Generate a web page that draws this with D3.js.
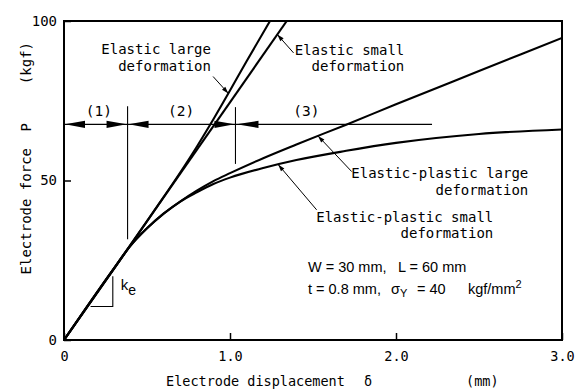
<!DOCTYPE html>
<html>
<head>
<meta charset="utf-8">
<script src="https://cdn.jsdelivr.net/npm/d3@7"></script>
<style>
  body { margin: 0; background: #fff; }
  svg { display: block; }
</style>
</head>
<body>
<svg id="chart" width="580" height="392"></svg>
<script>
// Axis ticks
const xTicks = [0, 1, 2, 3];
const xTickLabels = ["0", "1.0", "2.0", "3.0"];
const yTicks = [0, 50, 100];
const yTickLabels = ["0", "50", "100"];

// Force P (kgf) against displacement δ (mm) for each model
const elasticSmallDelta = [0, 1.342];
const elasticSmallP     = [0, 100];

const elasticLargeDelta = [0, 0.55, 0.7, 0.8, 0.9, 1.0, 1.1, 1.241];
const elasticLargeP     = [0, 41.0, 52.5, 60.6, 69.2, 78.2, 87.4, 100];

const plasticLargeDelta = [0, 0.3, 0.4, 0.5, 0.6, 0.7, 0.8, 0.9, 1.0, 1.2, 1.4, 1.7, 2.0, 2.5, 3.0];
const plasticLargeP     = [0, 22.4, 29.5, 35.0, 39.6, 43.4, 46.8, 49.8, 52.3, 57.0, 61.3, 67.5, 73.9, 84.3, 94.7];

const plasticSmallDelta = [0, 0.3, 0.4, 0.5, 0.6, 0.7, 0.8, 0.9, 1.0, 1.2, 1.4, 1.7, 2.0, 2.5, 3.0];
const plasticSmallP     = [0, 22.4, 29.5, 35.0, 39.6, 43.4, 46.3, 48.9, 50.9, 53.9, 56.4, 59.3, 61.8, 64.6, 66.0];

// Deformation regions (1)(2)(3) marked along a force level
const regionBounds = [0, 0.383, 1.033, 2.217];
const regionLabels = ["(1)", "(2)", "(3)"];
const regionLabelDelta = [0.21, 0.705, 1.46];
const regionLevelP = 67.6;
const dividerTopP = [73.3, 73.0];
const dividerBottomP = [31.6, 55.2];

// Curve labels with leader lines
const curveLabels = [
  { lines: ["Elastic large", "deformation"], delta: 0.885, P: 89.5, lx0: 0.898, lp0: 82.6, series: "elasticLarge", tDelta: 0.99 },
  { lines: ["Elastic small", "deformation"], delta: 2.05, P: 89.3, lx0: 1.383, lp0: 90.0, series: "elasticSmall", tDelta: 1.285 },
  { lines: ["Elastic-plastic large", "deformation"], delta: 2.797, P: 50.7, lx0: 1.733, lp0: 52.8, series: "plasticLarge", tDelta: 1.53 },
  { lines: ["Elastic-plastic small", "deformation"], delta: 2.586, P: 37.0, lx0: 1.522, lp0: 40.8, series: "plasticSmall", tDelta: 1.29 }
];

const mono = "'DejaVu Sans Mono', monospace";
const sans = "'Liberation Sans', Arial, sans-serif";

const svg = d3.select("#chart");
const x = d3.scaleLinear().domain([0, 3]).range([64, 562]);
const y = d3.scaleLinear().domain([0, 100]).range([340, 21]);

const series = {
  elasticSmall: [elasticSmallDelta, elasticSmallP],
  elasticLarge: [elasticLargeDelta, elasticLargeP],
  plasticLarge: [plasticLargeDelta, plasticLargeP],
  plasticSmall: [plasticSmallDelta, plasticSmallP]
};
const valueAt = (key, d) => d3.scaleLinear().domain(series[key][0]).range(series[key][1])(d);

// Plot frame
svg.append("rect")
  .attr("x", x(0)).attr("y", y(100))
  .attr("width", x(3) - x(0)).attr("height", y(0) - y(100))
  .attr("fill", "none").attr("stroke", "#000").attr("stroke-width", 2);

// Axes with inward ticks
const gx = svg.append("g")
  .attr("transform", `translate(0,${y(0)})`)
  .call(d3.axisBottom(x).tickValues(xTicks).tickFormat((d, i) => xTickLabels[i])
    .tickSizeInner(-7).tickSizeOuter(0).tickPadding(11));
gx.select(".domain").remove();
gx.selectAll("line").attr("stroke-width", 1.5);
gx.selectAll("text").attr("font-family", mono).attr("font-size", 13.5).attr("fill", "#000");

const gy = svg.append("g")
  .attr("transform", `translate(${x(0)},0)`)
  .call(d3.axisLeft(y).tickValues(yTicks).tickFormat((d, i) => yTickLabels[i])
    .tickSizeInner(-7).tickSizeOuter(0).tickPadding(7));
gy.select(".domain").remove();
gy.selectAll("line").attr("stroke-width", 1.5);
gy.selectAll("text").attr("font-family", mono).attr("font-size", 14).attr("fill", "#000");

// Axis titles
const yTitle = svg.append("g").attr("font-family", mono).attr("font-size", 14);
yTitle.append("text").attr("transform", "translate(31,148) rotate(-90)")
  .attr("text-anchor", "end").text("Electrode force");
yTitle.append("text").attr("transform", "translate(31,123) rotate(-90)")
  .attr("text-anchor", "end").text("P");
yTitle.append("text").attr("transform", "translate(31,42) rotate(-90)")
  .attr("text-anchor", "end").text("(kgf)");

const xTitle = svg.append("g").attr("font-family", mono).attr("font-size", 13.5);
xTitle.append("text").attr("x", 166).attr("y", 386).text("Electrode displacement");
xTitle.append("text").attr("x", 368).attr("y", 386).attr("text-anchor", "middle").text("δ");
xTitle.append("text").attr("x", 466).attr("y", 386).text("(mm)");

// Curves
const line = d3.line()
  .x(d => x(d[0])).y(d => y(d[1]))
  .curve(d3.curveMonotoneX);
svg.append("clipPath").attr("id", "plot")
  .append("rect").attr("x", x(0)).attr("y", y(100))
  .attr("width", x(3) - x(0)).attr("height", y(0) - y(100));
Object.values(series).forEach(([ds, ps]) => {
  svg.append("path")
    .attr("d", line(ds.map((d, i) => [d, ps[i]])))
    .attr("clip-path", "url(#plot)")
    .attr("fill", "none").attr("stroke", "#000")
    .attr("stroke-width", 2.1).attr("stroke-linejoin", "round");
});

// Filled arrowhead with tip at (tx,ty) pointing along angle a
function arrowHead(g, tx, ty, a, len, half) {
  const bx = tx - len * Math.cos(a), by = ty - len * Math.sin(a);
  const nx = -Math.sin(a) * half, ny = Math.cos(a) * half;
  g.append("path")
    .attr("d", `M${tx},${ty}L${bx + nx},${by + ny}L${bx - nx},${by - ny}Z`)
    .attr("fill", "#000");
}

// Region markers
const regions = svg.append("g");
const ly = y(regionLevelP);
regions.append("line")
  .attr("x1", x(regionBounds[0])).attr("x2", x(regionBounds[3]))
  .attr("y1", ly).attr("y2", ly)
  .attr("stroke", "#000").attr("stroke-width", 1.1);
[1, 2].forEach(i => {
  regions.append("line")
    .attr("x1", x(regionBounds[i])).attr("x2", x(regionBounds[i]))
    .attr("y1", y(dividerTopP[i - 1])).attr("y2", y(dividerBottomP[i - 1]))
    .attr("stroke", "#000").attr("stroke-width", 1.1);
});
arrowHead(regions, x(regionBounds[0]) + 1, ly, Math.PI, 20, 3.6);
arrowHead(regions, x(regionBounds[1]) - 1, ly, 0, 20, 3.6);
arrowHead(regions, x(regionBounds[1]) + 1, ly, Math.PI, 20, 3.6);
arrowHead(regions, x(regionBounds[2]) - 1, ly, 0, 20, 3.6);
arrowHead(regions, x(regionBounds[2]) + 1, ly, Math.PI, 22, 3.6);
regionLabels.forEach((t, i) => {
  regions.append("text")
    .attr("x", x(regionLabelDelta[i])).attr("y", y(regionLevelP) - 8)
    .attr("text-anchor", "middle")
    .attr("font-family", mono).attr("font-size", 14.5)
    .text(t);
});

// Curve labels and leaders
const labels = svg.append("g");
curveLabels.forEach(c => {
  const t = labels.append("text")
    .attr("font-family", mono).attr("font-size", 14)
    .attr("text-anchor", "end");
  c.lines.forEach((s, i) => {
    t.append("tspan").attr("x", x(c.delta)).attr("y", y(c.P) + i * 16.3).text(s);
  });
  const x0 = x(c.lx0), y0 = y(c.lp0);
  const x1 = x(c.tDelta), y1 = y(valueAt(c.series, c.tDelta));
  labels.append("line")
    .attr("x1", x0).attr("y1", y0).attr("x2", x1).attr("y2", y1)
    .attr("stroke", "#000").attr("stroke-width", 1);
  arrowHead(labels, x1, y1, Math.atan2(y1 - y0, x1 - x0), 7, 2.2);
});

// Initial stiffness triangle
const ke = svg.append("g");
ke.append("path")
  .attr("d", `M${x(0.16)},${y(10.5)}L${x(0.294)},${y(10.5)}L${x(0.294)},${y(20)}`)
  .attr("fill", "none").attr("stroke", "#000").attr("stroke-width", 1.1);
const keText = ke.append("text").attr("x", x(0.342)).attr("y", y(15.6))
  .attr("font-family", sans).attr("font-size", 15);
keText.append("tspan").text("k");
keText.append("tspan").attr("dy", 5).attr("font-size", 14).text("e");

// Specimen parameters
const params = svg.append("g").attr("font-family", sans).attr("font-size", 14.5);
params.append("text").attr("x", 308).attr("y", 272).text("W = 30 mm,");
params.append("text").attr("x", 398).attr("y", 272).text("L = 60 mm");
params.append("text").attr("x", 308).attr("y", 294).text("t = 0.8 mm,");
const sig = params.append("text").attr("x", 391).attr("y", 294);
sig.append("tspan").text("σ");
sig.append("tspan").attr("dy", 3).attr("font-size", 11).text("Y");
params.append("text").attr("x", 417).attr("y", 294).text("= 40");
const unit = params.append("text").attr("x", 468).attr("y", 294);
unit.append("tspan").text("kgf/mm");
unit.append("tspan").attr("dy", -6).attr("font-size", 11).text("2");
</script>
</body>
</html>
